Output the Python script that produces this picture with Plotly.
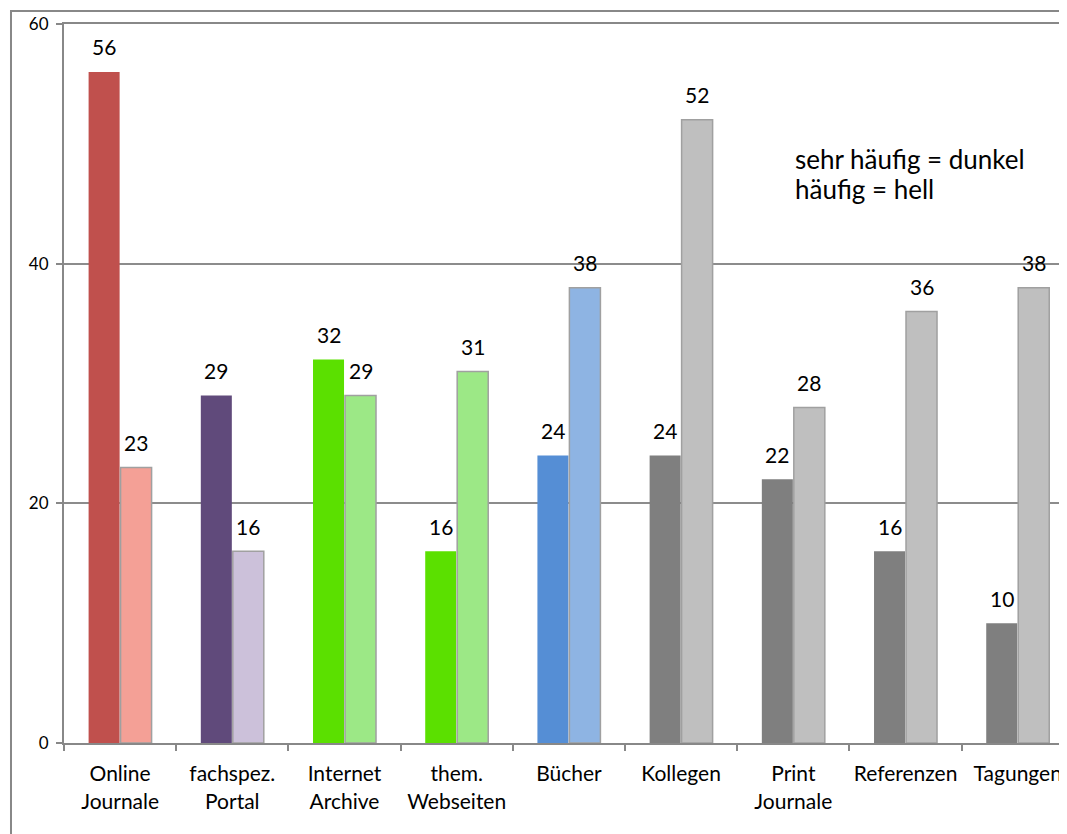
import plotly.graph_objects as go

categories = ["Online<br>Journale", "fachspez.<br>Portal", "Internet<br>Archive", "them.<br>Webseiten",
              "Bücher", "Kollegen", "Print<br>Journale", "Referenzen", "Tagungen"]
sehr_haeufig = [56, 29, 32, 16, 24, 24, 22, 16, 10]
haeufig = [23, 16, 29, 31, 38, 52, 28, 36, 38]
dark_colors = ["#C0504D", "#604A7B", "#5BE000", "#5BE000", "#558ED5",
               "#7F7F7F", "#7F7F7F", "#7F7F7F", "#7F7F7F"]
light_colors = ["#F4A096", "#CCC1DA", "#9CE886", "#9CE886", "#8EB4E3",
                "#BFBFBF", "#BFBFBF", "#BFBFBF", "#BFBFBF"]
y_ticks = [0, 20, 40, 60]
legend_lines = ["sehr häufig = dunkel", "häufig = hell"]

FONT = "Lato"

fig = go.Figure()
fig.add_trace(go.Bar(x=categories, y=sehr_haeufig, marker=dict(color=dark_colors, line=dict(width=0)),
                     name="sehr häufig"))
fig.add_trace(go.Bar(x=categories, y=haeufig, marker=dict(color=light_colors, line=dict(color="#A0A0A0", width=1.5)),
                     name="häufig"))

annotations = []
for cat, v in zip(categories, sehr_haeufig):
    annotations.append(dict(x=cat, y=v, text=str(v), showarrow=False, xshift=-16, yshift=25,
                            font=dict(size=21, color="#000", family=FONT)))
for cat, v in zip(categories, haeufig):
    annotations.append(dict(x=cat, y=v, text=str(v), showarrow=False, xshift=16, yshift=25,
                            font=dict(size=21, color="#000", family=FONT)))
for i, line in enumerate(legend_lines):
    annotations.append(dict(xref="paper", yref="paper", x=0.726, y=(742 - 158 - 30 * i) / 719,
                            xanchor="left", yanchor="middle", text=line, showarrow=False,
                            font=dict(size=26, color="#000", family=FONT)))

fig.update_layout(
    width=1060, height=827,
    margin=dict(l=56, r=0, t=16, b=92, autoexpand=False),
    paper_bgcolor="white", plot_bgcolor="white",
    barmode="group", bargap=0.43, bargroupgap=0.03,
    showlegend=False,
    font=dict(family=FONT, color="#000"),
    annotations=annotations,
    shapes=[dict(type="rect", xref="paper", yref="paper", x0=-0.0528, x1=1.3, y0=-0.5, y1=1.0181,
                 line=dict(color="#888", width=2), fillcolor="rgba(0,0,0,0)", layer="above")],
    xaxis=dict(type="category", range=[-0.5, 8.448], showline=True, linecolor="#888", linewidth=2,
               mirror=True, ticks="outside", tickson="boundaries", ticklen=6, tickcolor="#888",
               tickwidth=2, showgrid=False, tickfont=dict(size=21, family=FONT),
               tickangle=0, automargin=False, ticklabelstandoff=11),
    yaxis=dict(range=[0, 60], tickvals=y_ticks, showgrid=True, gridcolor="#8C8C8C", gridwidth=2,
               showline=True, linecolor="#888", linewidth=2, ticks="outside", ticklen=6,
               tickcolor="#888", tickwidth=2, zeroline=False, tickfont=dict(size=17, family=FONT),
               automargin=False, ticklabelstandoff=4),
)

fig.write_html("out.html")
